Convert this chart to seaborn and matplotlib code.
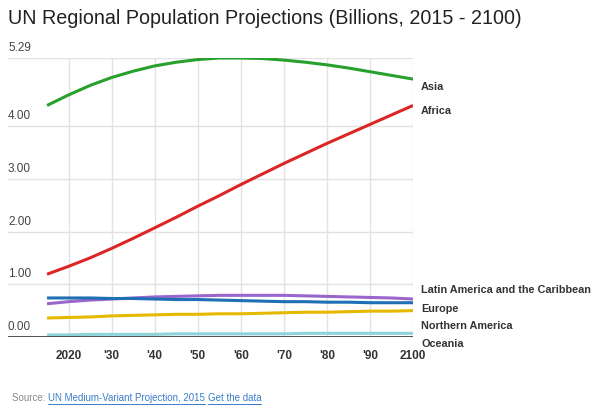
import numpy as np
import pandas as pd
import seaborn as sns
import matplotlib
matplotlib.use("Agg")
import matplotlib.pyplot as plt
from matplotlib.lines import Line2D
import matplotlib.transforms as mtransforms

# ---------------- data ----------------
years = [2015, 2020, 2025, 2030, 2035, 2040, 2045, 2050, 2055, 2060,
         2065, 2070, 2075, 2080, 2085, 2090, 2095, 2100]
asia = [4.39, 4.59, 4.77, 4.92, 5.04, 5.14, 5.21, 5.26, 5.29, 5.29,
        5.28, 5.25, 5.21, 5.16, 5.10, 5.03, 4.96, 4.89]
africa = [1.19, 1.34, 1.50, 1.68, 1.87, 2.07, 2.27, 2.48, 2.68, 2.89,
          3.09, 3.29, 3.48, 3.67, 3.85, 4.03, 4.21, 4.39]
latin_america = [0.63, 0.67, 0.70, 0.72, 0.74, 0.76, 0.77, 0.78, 0.79, 0.79,
                 0.79, 0.79, 0.78, 0.77, 0.76, 0.75, 0.74, 0.72]
europe = [0.74, 0.74, 0.74, 0.73, 0.73, 0.72, 0.71, 0.71, 0.70, 0.69,
          0.68, 0.67, 0.67, 0.66, 0.66, 0.65, 0.65, 0.65]
northern_america = [0.36, 0.37, 0.38, 0.40, 0.41, 0.42, 0.43, 0.43, 0.44, 0.44,
                    0.45, 0.46, 0.47, 0.47, 0.48, 0.49, 0.49, 0.50]
oceania = [0.04, 0.04, 0.05, 0.05, 0.05, 0.05, 0.06, 0.06, 0.06, 0.06,
           0.06, 0.06, 0.07, 0.07, 0.07, 0.07, 0.07, 0.07]

regions = ["Asia", "Africa", "Latin America and the Caribbean", "Europe",
           "Northern America", "Oceania"]
series = [asia, africa, latin_america, europe, northern_america, oceania]

x_ticks = [2020, 2030, 2040, 2050, 2060, 2070, 2080, 2090, 2100]
x_tick_labels = ["2020", "'30", "'40", "'50", "'60", "'70", "'80", "'90", "2100"]
y_ticks = [0, 1, 2, 3, 4, 5.29]
y_tick_labels = ["0.00", "1.00", "2.00", "3.00", "4.00", "5.29"]

# label anchor positions (layout, de-collided like the original)
label_pos = [4.74, 4.28, 0.89, 0.53, 0.21, -0.13]

colors = ["#27a02d", "#dc2626", "#9966cc", "#1f6fb5", "#e6b800", "#8fd3dc"]

df = pd.DataFrame({
    "year": years * len(regions),
    "value": sum(series, []),
    "region": sum([[r] * len(years) for r in regions], []),
})

# ---------------- style ----------------
sns.set_style("white")
plt.rcParams["font.family"] = ["Liberation Sans", "DejaVu Sans"]

fig = plt.figure(figsize=(6, 4.11), dpi=100)
ax = fig.add_axes([8 / 600, 1 - 337 / 411, 405 / 600, 279 / 411])

sns.lineplot(data=df, x="year", y="value", hue="region", hue_order=regions,
             palette=colors, linewidth=2.2, legend=False, ax=ax,
             estimator=None, sort=True, solid_joinstyle="round",
             solid_capstyle="butt")

ax.set_xlim(2015 - 39 / 4.3, 2100)
ax.set_ylim(0, 5.29)

for s in ax.spines.values():
    s.set_visible(False)

# grid
for v in y_ticks[1:]:
    ax.axhline(v, color="#e2e2e2", lw=1, zorder=0)
for xv in x_ticks:
    ax.axvline(xv, color="#e2e2e2", lw=1, zorder=0)
ax.axhline(0, color="#333333", lw=1.2, zorder=3)

ax.set_xticks(x_ticks)
ax.set_xticklabels(x_tick_labels, fontsize=8.5, fontweight="bold", color="#333333")
ax.tick_params(axis="x", length=0, pad=9)
ax.set_yticks([])
ax.set_xlabel("")
ax.set_ylabel("")

trans = mtransforms.blended_transform_factory(ax.transAxes, ax.transData)
for v, lab in zip(y_ticks, y_tick_labels):
    ax.annotate(lab, xy=(0, v), xycoords=trans, xytext=(0, 4),
                textcoords="offset pixels", ha="left", va="bottom",
                fontsize=8.5, color="#444444", annotation_clip=False)

for r, yp in zip(regions, label_pos):
    ax.annotate(r, xy=(1, yp), xycoords=trans, xytext=(8, 0),
                textcoords="offset pixels", ha="left", va="center",
                fontsize=7.8, fontweight="bold", color="#333333",
                annotation_clip=False)

fig.text(8 / 600, 1 - 19 / 411, "UN Regional Population Projections (Billions, 2015 - 2100)",
         fontsize=14.2, color="#222222", ha="left", va="center")

# source line
fig.canvas.draw()
renderer = fig.canvas.get_renderer()
xpix = 12
ypix = 411 - 398
pieces = [("Source: ", "#888888", False),
          ("UN Medium-Variant Projection, 2015", "#3a7cc7", True),
          (" ", "#888888", False),
          ("Get the data", "#3a7cc7", True)]
for txt, col, ul in pieces:
    t = fig.text(xpix / 600, ypix / 411, txt, fontsize=7, color=col,
                 ha="left", va="center")
    bb = t.get_window_extent(renderer=renderer)
    if ul:
        fig.add_artist(Line2D([bb.x0 / 600, bb.x1 / 600],
                              [(bb.y0 - 0.5) / 411, (bb.y0 - 0.5) / 411],
                              color=col, lw=0.7, transform=fig.transFigure))
    xpix = bb.x1

fig.savefig("out.png", dpi=100)
